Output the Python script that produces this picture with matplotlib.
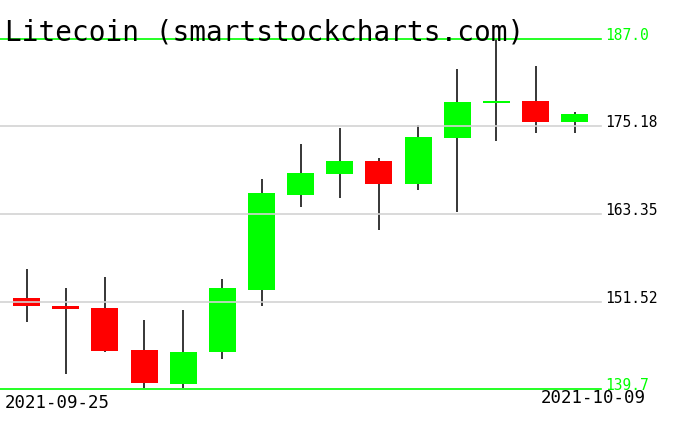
import matplotlib
matplotlib.use("Agg")
import matplotlib.pyplot as plt
import matplotlib.transforms as mtransforms

# ===================================================================
# Data
# ===================================================================

dates = ["2021-09-25", "2021-10-09"]
levels = [187.0, 175.18, 163.35, 151.52, 139.7]
level_labels = ["187.0", "175.18", "163.35", "151.52", "139.7"]

opens = [152.00, 150.92, 150.65, 144.97, 140.42, 144.74, 153.12, 165.96,
         168.80, 170.51, 167.45, 173.66, 178.39, 178.66, 175.78]
closes = [150.92, 150.51, 144.88, 140.55, 144.70, 153.35, 166.19, 168.89,
          170.51, 167.45, 173.76, 178.49, 178.62, 175.78, 176.86]
highs = [155.92, 153.35, 154.84, 149.03, 150.38, 154.57, 168.08, 172.81,
         174.97, 170.92, 175.38, 182.95, 187.00, 183.35, 177.14]
lows = [148.76, 141.77, 144.74, 139.88, 139.80, 143.80, 150.96, 164.34,
        165.55, 161.23, 166.55, 163.66, 173.26, 174.34, 174.34]

GREEN = "#00ff00"
RED = "#ff0000"
GRID = "#d3d3d3"

# ===================================================================
# Plot
# ===================================================================

W, H = 676, 431
fig = plt.figure(figsize=(W / 100, H / 100), dpi=100)
fig.patch.set_facecolor("white")

# axes area in pixels: x 0..601, y 40..390 (from top)
ax = fig.add_axes([0, (H - 390) / H, 601 / W, 350 / H])
ax.set_axis_off()
ax.set_xlim(-0.682, 14.673)
ax.set_ylim(levels[-1], levels[0])

x = list(range(len(opens)))
colors = [GREEN if c >= o else RED for o, c in zip(opens, closes)]
bottoms = [min(o, c) for o, c in zip(opens, closes)]
heights = [max(abs(c - o), 0.25) for o, c in zip(opens, closes)]

ax.vlines(x, lows, highs, color="black", linewidth=1.1, zorder=1)
ax.bar(x, heights, bottom=bottoms, width=0.69, color=colors,
       edgecolor="none", zorder=2)

for i, lv in enumerate(levels):
    edge = i == 0 or i == len(levels) - 1
    ax.axhline(lv, color=GREEN if edge else GRID, linewidth=1.2,
               zorder=3, clip_on=False)

# level labels on the right
trans = mtransforms.blended_transform_factory(ax.transAxes, ax.transData)
trans = trans + mtransforms.ScaledTranslation(4 / 100, 0, fig.dpi_scale_trans)
for i, (lv, lab) in enumerate(zip(levels, level_labels)):
    edge = i == 0 or i == len(levels) - 1
    ax.text(1.0, lv, lab, transform=trans, ha="left", va="baseline",
            family="DejaVu Sans Mono", fontsize=10.5,
            color=GREEN if edge else "black", clip_on=False)

fig.text(5 / W, (H - 40) / H, "Litecoin (smartstockcharts.com)",
         ha="left", va="baseline", family="DejaVu Sans Mono",
         fontsize=20, color="black", fontweight="light")

fig.text(5 / W, (H - 394) / H, dates[0], ha="left", va="top",
         family="DejaVu Sans Mono", fontsize=12.5, color="black")
fig.text(646 / W, (H - 389) / H, dates[1], ha="right", va="top",
         family="DejaVu Sans Mono", fontsize=12.5, color="black")

fig.savefig("out.png", dpi=100)
plt.close(fig)
